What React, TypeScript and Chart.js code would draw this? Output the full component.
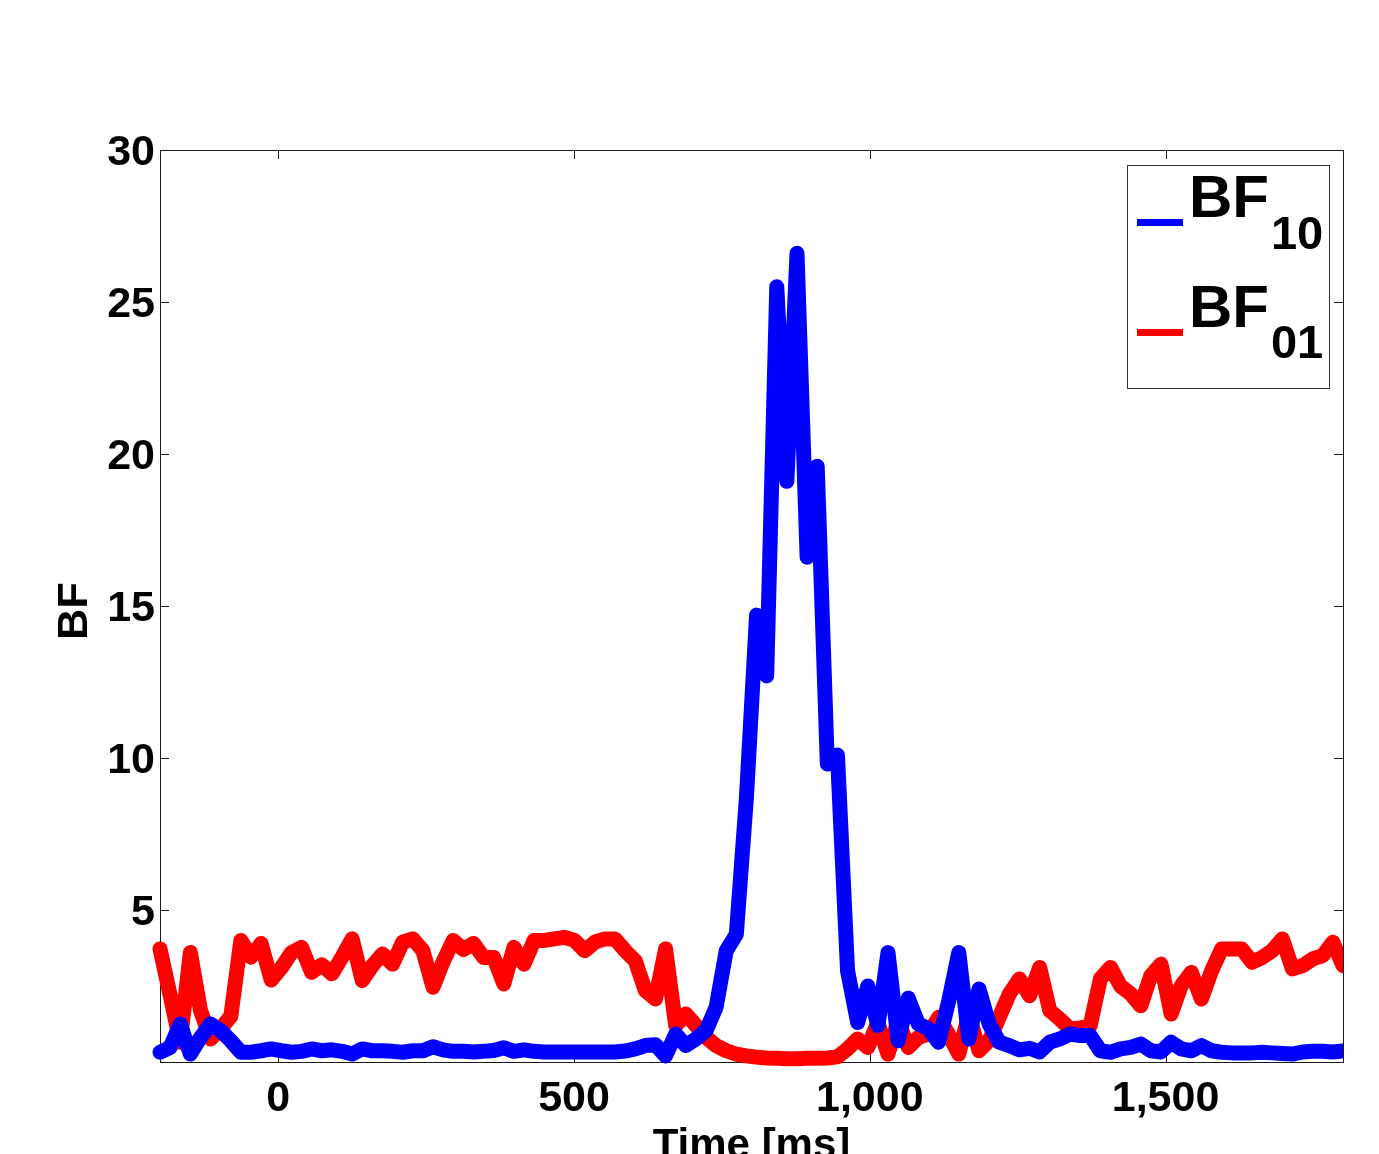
import React, { useEffect, useRef } from "react";
import { Chart, registerables } from "chart.js";

Chart.register(...registerables);

// ---- Data ----
const SAMPLE_START_MS = -200;
const SAMPLE_END_MS = 1800;

const BF10_VALUES = [
  0.32, 0.48, 1.25, 0.26, 0.8, 1.25, 1.03, 0.7, 0.32, 0.32,
  0.37, 0.43, 0.37, 0.32, 0.35, 0.43, 0.37, 0.4, 0.35, 0.26,
  0.43, 0.37, 0.37, 0.35, 0.32, 0.37, 0.37, 0.5, 0.4, 0.35,
  0.35, 0.33, 0.35, 0.38, 0.47, 0.35, 0.4, 0.35, 0.33, 0.33,
  0.33, 0.33, 0.33, 0.33, 0.33, 0.33, 0.36, 0.43, 0.54, 0.57,
  0.2, 0.92, 0.54, 0.76, 1.03, 1.8, 3.66, 4.2, 8.7, 14.7,
  12.7, 25.5, 19.1, 26.6, 16.6, 19.6, 9.8, 10.1, 3.0, 1.3,
  2.5, 1.2, 3.6, 0.7, 2.1, 1.25, 1.1, 0.65, 2.0, 3.6,
  0.76, 2.4, 1.25, 0.65, 0.54, 0.4, 0.45, 0.33, 0.65, 0.76,
  0.92, 0.87, 0.87, 0.37, 0.32, 0.43, 0.48, 0.59, 0.37, 0.33,
  0.65, 0.43, 0.37, 0.54, 0.37, 0.32, 0.3, 0.3, 0.3, 0.32,
  0.3, 0.28, 0.26, 0.33, 0.35, 0.35, 0.33, 0.36,
];

const BF01_VALUES = [
  3.72, 2.2, 0.65, 3.6, 1.7, 0.76, 1.1, 1.5, 4.0, 3.45,
  3.9, 2.7, 3.1, 3.6, 3.77, 2.95, 3.2, 2.9, 3.45, 4.05,
  2.68, 3.17, 3.55, 3.22, 3.94, 4.05, 3.66, 2.46, 3.3, 4.0,
  3.7, 3.9, 3.44, 3.44, 2.57, 3.77, 3.22, 4.0, 4.0, 4.05,
  4.1, 4.0, 3.66, 3.94, 4.05, 4.05, 3.66, 3.33, 2.35, 2.07,
  3.72, 1.2, 1.58, 1.2, 0.81, 0.54, 0.37, 0.26, 0.2, 0.16,
  0.13, 0.12, 0.11, 0.11, 0.12, 0.12, 0.13, 0.17, 0.43, 0.76,
  0.48, 1.3, 0.26, 1.36, 0.48, 0.81, 0.92, 1.47, 0.9, 0.26,
  1.58, 0.37, 0.7, 1.47, 2.24, 2.73, 2.18, 3.11, 1.69, 1.41,
  1.09, 1.12, 1.2, 2.73, 3.11, 2.5, 2.24, 1.85, 2.84, 3.22,
  1.58, 2.51, 2.95, 2.07, 3.0, 3.72, 3.72, 3.72, 3.28, 3.44,
  3.66, 4.05, 3.06, 3.17, 3.39, 3.5, 3.94, 3.17,
];

const X_TICKS = [0, 500, 1000, 1500];
const Y_TICKS = [5, 10, 15, 20, 25, 30];
const X_TITLE = "Time [ms]";
const Y_TITLE = "BF";
const LEGEND_MAIN = ["BF", "BF"];
const LEGEND_SUB = ["10", "01"];
const SERIES_COLORS = ["#0000ff", "#ff0000"];

// uniform sampling grid of the recording
const sampleTimes = BF10_VALUES.map(
  (_, i) => SAMPLE_START_MS + (i * (SAMPLE_END_MS - SAMPLE_START_MS)) / (BF10_VALUES.length - 1)
);

const FONT = '"Liberation Sans", Arial, Helvetica, sans-serif';

const decorPlugin = {
  id: "matlabDecor",
  beforeDatasetsDraw(chart: any) {
    const { ctx, chartArea: a, scales } = chart;
    ctx.save();
    ctx.strokeStyle = "#1a1a1a";
    ctx.lineWidth = 1;
    ctx.strokeRect(Math.round(a.left) + 0.5, Math.round(a.top) + 0.5, Math.round(a.right - a.left), Math.round(a.bottom - a.top));
    const TL = 9;
    ctx.beginPath();
    X_TICKS.forEach((v) => {
      const px = Math.round(scales.x.getPixelForValue(v)) + 0.5;
      ctx.moveTo(px, a.bottom);
      ctx.lineTo(px, a.bottom - TL);
      ctx.moveTo(px, a.top);
      ctx.lineTo(px, a.top + TL);
    });
    Y_TICKS.forEach((v) => {
      const py = Math.round(scales.y.getPixelForValue(v)) + 0.5;
      ctx.moveTo(a.left, py);
      ctx.lineTo(a.left + TL, py);
      ctx.moveTo(a.right, py);
      ctx.lineTo(a.right - TL, py);
    });
    ctx.stroke();
    ctx.restore();
  },
  afterDraw(chart: any) {
    const { ctx, chartArea: a } = chart;
    ctx.save();
    ctx.fillStyle = "#000";
    // axis titles
    ctx.font = `bold 42px ${FONT}`;
    ctx.textAlign = "center";
    ctx.textBaseline = "alphabetic";
    ctx.fillText(X_TITLE, (a.left + a.right) / 2, 1158);
    ctx.save();
    ctx.translate(87, (a.top + a.bottom) / 2 + 5);
    ctx.rotate(-Math.PI / 2);
    ctx.font = `bold 43px ${FONT}`;
    ctx.fillText(Y_TITLE, 0, 0);
    ctx.restore();

    // legend
    const bx = 1127.5, by = 165.5, bw = 202, bh = 223;
    ctx.fillStyle = "#fff";
    ctx.fillRect(bx, by, bw, bh);
    ctx.strokeStyle = "#333";
    ctx.lineWidth = 1;
    ctx.strokeRect(bx, by, bw, bh);
    const rows = [
      { lineY: 222.5, base: 217, subBase: 249 },
      { lineY: 332.5, base: 327, subBase: 358 },
    ];
    rows.forEach((r, i) => {
      ctx.strokeStyle = SERIES_COLORS[i];
      ctx.lineWidth = 7;
      ctx.lineCap = "butt";
      ctx.beginPath();
      ctx.moveTo(1137, r.lineY);
      ctx.lineTo(1183, r.lineY);
      ctx.stroke();
      ctx.fillStyle = "#000";
      ctx.textAlign = "left";
      ctx.font = `bold 60px ${FONT}`;
      ctx.fillText(LEGEND_MAIN[i], 1189, r.base);
      const w = ctx.measureText(LEGEND_MAIN[i]).width;
      ctx.font = `bold 47px ${FONT}`;
      ctx.fillText(LEGEND_SUB[i], 1189 + w + 2, r.subBase);
    });
    ctx.restore();
  },
};

export default function App() {
  const canvasRef = useRef<HTMLCanvasElement | null>(null);

  useEffect(() => {
    const canvas = canvasRef.current;
    if (!canvas) return;
    const tickFont = { family: FONT, size: 43, weight: "bold" as const };
    const lineStyle = {
      borderWidth: 15,
      borderJoinStyle: "round" as const,
      borderCapStyle: "round" as const,
      pointRadius: 0,
      tension: 0,
      clip: { left: 10, top: 10, right: 0, bottom: 10 } as any,
    };
    const chart = new Chart(canvas, {
      type: "line",
      data: {
        datasets: [
          {
            label: "BF10",
            data: sampleTimes.map((t, i) => ({ x: t, y: BF10_VALUES[i] })),
            borderColor: SERIES_COLORS[0],
            backgroundColor: SERIES_COLORS[0],
            ...lineStyle,
          },
          {
            label: "BF01",
            data: sampleTimes.map((t, i) => ({ x: t, y: BF01_VALUES[i] })),
            borderColor: SERIES_COLORS[1],
            backgroundColor: SERIES_COLORS[1],
            ...lineStyle,
          },
        ],
      },
      options: {
        responsive: false,
        animation: false,
        layout: { padding: { top: 150, right: 36, left: 0, bottom: 0 } },
        plugins: {
          legend: { display: false },
          tooltip: { enabled: false },
          title: { display: false },
        },
        scales: {
          x: {
            type: "linear",
            min: SAMPLE_START_MS,
            max: SAMPLE_END_MS,
            grid: { display: false, drawTicks: false },
            border: { display: false },
            afterBuildTicks: (s: any) => {
              s.ticks = X_TICKS.map((v) => ({ value: v }));
            },
            afterFit: (s: any) => {
              s.height = 92;
            },
            ticks: {
              font: tickFont,
              color: "#000",
              padding: 11,
              maxRotation: 0,
              autoSkip: false,
              callback: (v: any) => Number(v).toLocaleString("en-US"),
            },
          },
          y: {
            type: "linear",
            min: 0,
            max: 30,
            grid: { display: false, drawTicks: false },
            border: { display: false },
            afterBuildTicks: (s: any) => {
              s.ticks = Y_TICKS.map((v) => ({ value: v }));
            },
            afterFit: (s: any) => {
              s.width = 160;
            },
            ticks: {
              font: tickFont,
              color: "#000",
              padding: 5,
              labelOffset: 3,
              autoSkip: false,
            },
          },
        },
      },
      plugins: [decorPlugin],
    });
    return () => chart.destroy();
  }, []);

  return (
    <div style={{ position: "fixed", left: 0, top: 0, width: 1379, height: 1154, background: "#fff", overflow: "hidden" }}>
      <canvas ref={canvasRef} width={1379} height={1154} style={{ display: "block" }} />
    </div>
  );
}
